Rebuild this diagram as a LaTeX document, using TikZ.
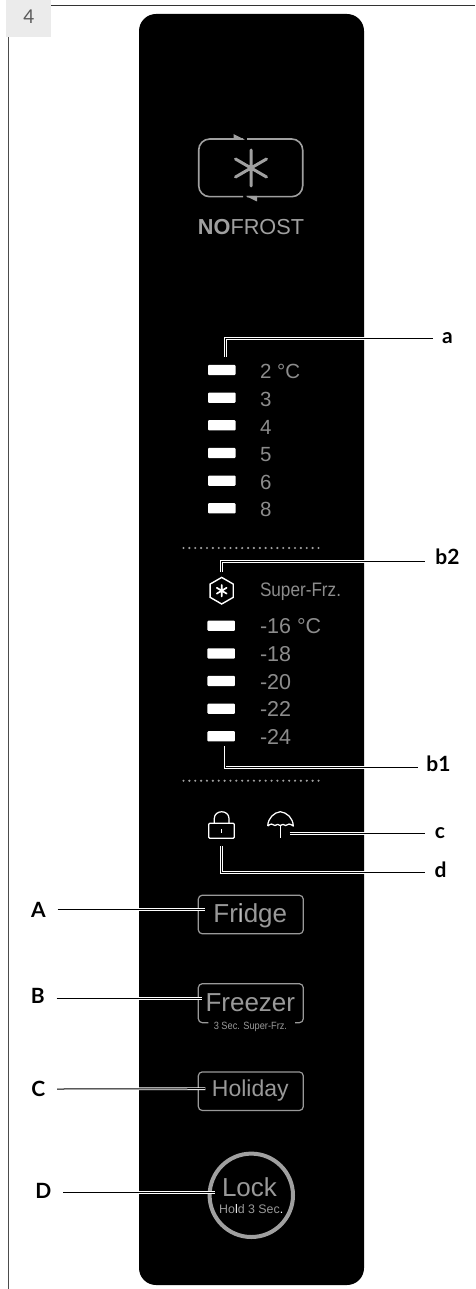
\documentclass[tikz,border=0pt]{standalone}
\usepackage{fontspec}
\usepackage{graphicx}
\setmainfont{Liberation Sans}
\newfontfamily\latofont{Lato}
\usetikzlibrary{shapes.geometric}
\definecolor{pgray}{HTML}{A0A0A0}
\definecolor{tgray}{HTML}{8C8C8C}
\definecolor{bgray}{HTML}{999999}
\newcommand{\fs}[1]{\fontsize{#1}{#1}\selectfont}
\tikzset{
  leader/.style={draw=black,line width=1pt,line join=miter,preaction={draw=white,line width=2.8pt}},
  lab/.style={inner sep=0pt,outer sep=0pt,text=black,font=\latofont\bfseries\fs{21}},
  ledbar/.style={fill=white,rounded corners=1pt,minimum width=27.5pt,minimum height=10.3pt,inner sep=0pt,outer sep=0pt},
  temp/.style={anchor=base west,inner sep=0pt,outer sep=0pt,text=tgray,font=\fs{20.5}},
  btn/.style={draw=bgray,line width=1.2pt,rounded corners=4pt,minimum width=105pt,minimum height=38.6pt,inner sep=0pt,outer sep=0pt},
  btntext/.style={anchor=base,inner sep=0pt,outer sep=0pt,text=bgray},
  dots/.style={pgray,line width=2.4pt,line cap=round,dash pattern=on 0pt off 5.87pt},
  icon/.style={draw=white,line width=1.25pt,line join=round}
}
\begin{document}
\begin{tikzpicture}[x=1pt,y=-1pt]
\useasboundingbox (0,0) rectangle (475,1289);
% page frame
\fill[white] (0,0) rectangle (475,1289);
\draw[black!80,line width=1.1pt] (51,5.4) -- (475,5.4);
\draw[black!70,line width=1.2pt] (8.7,36.7) -- (8.7,1289);
\fill[black!8] (6,0) rectangle (51,36.7);
\node[inner sep=0pt,text=black!65,font=\latofont\fs{19}] (pagenum) at (29,16.5) {4};
% panel
\fill[black,rounded corners=17pt] (139,14) rectangle (364,1285);
% NOFROST icon
\draw[pgray,line width=1.6pt,rounded corners=11pt] (243,139) -- (198.7,139) -- (198.7,196.7) -- (243,196.7);
\draw[pgray,line width=1.6pt,rounded corners=11pt] (247,139) -- (302.7,139) -- (302.7,196.7) -- (247,196.7);
\fill[pgray] (233.5,134) -- (245,139.9) -- (233.5,139.9) -- cycle;
\fill[pgray] (245.5,195.8) -- (257,201.5) -- (257,195.8) -- cycle;
\draw[pgray,line width=3pt,line cap=round] (251,150) -- (251,186) (235.5,159) -- (266.5,177) (235.5,177) -- (266.5,159);
\node[anchor=base,inner sep=0pt,text=pgray,font=\fs{21.7}] (nofrost) at (251,234) {\textbf{NO}FROST};
% fridge LEDs
\node[ledbar] (r1) at (221.8,370) {};
\node[ledbar] (r2) at (221.8,397.7) {};
\node[ledbar] (r3) at (221.8,425.3) {};
\node[ledbar] (r4) at (221.8,453) {};
\node[ledbar] (r5) at (221.8,480.7) {};
\node[ledbar] (r6) at (221.8,508.3) {};
\node[temp] (t1) at (260,378.5) {2 °C};
\node[temp] (t2) at (260,406) {3};
\node[temp] (t3) at (260,434) {4};
\node[temp] (t4) at (260,461.5) {5};
\node[temp] (t5) at (260,489) {6};
\node[temp] (t6) at (260,516.5) {8};
\draw[dots] (183.5,548) -- (319,548);
% super freeze
\node[regular polygon,regular polygon sides=6,shape border rotate=30,draw=white,line width=1.4pt,minimum size=26.6pt,inner sep=0pt,outer sep=0pt] (hex) at (221.7,590.7) {};
\draw[white,line width=1.7pt,line cap=round] (221.7,585) -- (221.7,596.4) (216.8,587.8) -- (226.6,593.6) (216.8,593.6) -- (226.6,587.8);
\node[temp] (sf) at (260,596.5) {\scalebox{.88}[1]{\fs{19.5}Super-Frz.}};
\node[ledbar] (f1) at (221.2,625.7) {};
\node[ledbar] (f2) at (221.2,653.4) {};
\node[ledbar] (f3) at (221.2,681) {};
\node[ledbar] (f4) at (221.2,708.7) {};
\node[ledbar] (f5) at (221.2,736.3) {};
\node[temp,font=\fs{21.5}] (g1) at (260,633.7) {-16 °C};
\node[temp,font=\fs{21.5}] (g2) at (260,661.5) {-18};
\node[temp,font=\fs{21.5}] (g3) at (260,689) {-20};
\node[temp,font=\fs{21.5}] (g4) at (260,716.7) {-22};
\node[temp,font=\fs{21.5}] (g5) at (260,744) {-24};
\draw[dots] (183.5,780.7) -- (319,780.7);
% lock icon
\node[icon,rounded corners=1pt,minimum width=25.6pt,minimum height=15pt,inner sep=0pt,outer sep=0pt] (lock) at (221.5,830.8) {};
\draw[icon] (214.3,823.3) -- (214.3,818.5) .. controls (214.3,809.5) and (229,809.5) .. (229,818.5) -- (229,823.3);
\draw[white,line width=1pt] (221.5,829) -- (221.5,833);
% umbrella icon
\coordinate (umb) at (280.3,811.7);
\draw[icon] (267.7,826) .. controls (268,818) and (274,812.5) .. (umb) .. controls (287,812.5) and (293,818) .. (293.3,826)
  .. controls (290,823.5) and (288,823.5) .. (285.5,825.5) .. controls (284,824) and (282,824) .. (280.3,825.5)
  .. controls (278.5,824) and (276.5,824) .. (275,825.5) .. controls (273,823.5) and (270.5,823.5) .. (267.7,826);
\draw[icon] (280.3,825) -- (280.3,838.3);
\coordinate (umbh) at (289.5,833.3);
% buttons
\node[btn] (fridge) at (250.8,914.5) {};
\node[btntext,font=\fs{26}] (fridget) at (250.3,922.3) {Fr\textcolor{black!25}{i}dge};
\node[inner sep=0pt,outer sep=0pt,minimum width=105pt,minimum height=39pt] (freezer) at (250.8,1003.2) {};
\draw[bgray,line width=1.2pt,rounded corners=4pt] (208.3,1022.7) -- (198.3,1022.7) -- (198.3,983.7) -- (303.3,983.7) -- (303.3,1022.7) -- (295,1022.7);
\node[btntext,font=\fs{26}] (freezert) at (250.3,1011.7) {Freezer};
\node[btntext,font=\fs{10.5}] (freezers) at (250.4,1029) {\scalebox{.88}[1]{3 Sec. Super-Frz.}};
\node[btn] (holiday) at (250.8,1091.2) {};
\node[btntext,font=\fs{23}] (holidayt) at (250.3,1096.7) {Holiday};
\node[circle,draw=pgray,line width=4pt,minimum size=83.4pt,inner sep=0pt,outer sep=0pt] (lockbtn) at (251.3,1195.3) {};
\node[btntext,font=\fs{26}] (lockt) at (249.5,1196) {Lock};
\node[btntext,font=\fs{12.4}] (lockh) at (251.2,1213.3) {Ho\textcolor{white}{l}d 3 Sec\textcolor{white}{.}};
% labels
\node[lab] (la) at (447.5,338.3) {a};
\node[lab] (lb2) at (447.5,556.7) {b2};
\node[lab] (lb1) at (438.5,764) {b1};
\node[lab] (lc) at (440,833) {c};
\node[lab] (ld) at (440.5,869.5) {d};
\node[lab] (lA) at (38.3,909.5) {A};
\node[lab] (lB) at (37.7,995.7) {B};
\node[lab] (lC) at (38.3,1089) {C};
\node[lab] (lD) at (43.3,1190.7) {D};
% leaders
\draw[leader] ([xshift=3.5pt,yshift=8pt]r1.north) |- ([xshift=-9pt]la.west);
\draw[leader] ([yshift=5pt]hex.north) |- ([xshift=-10pt,yshift=-5pt]lb2.west);
\draw[leader] ([xshift=3.8pt,yshift=-5pt]f5.south) |- ([xshift=-8pt,yshift=-3.2pt]lb1.west);
\draw[leader] (umbh) -- ([xshift=-9.5pt]lc.west |- umbh);
\draw[leader] ([yshift=-8pt]lock.south) |- ([xshift=-9.5pt,yshift=-3.2pt]ld.west);
\draw[leader] ([xshift=12pt]lA.east) -- ([xshift=7pt,yshift=5pt]fridge.west);
\draw[leader] ([xshift=12pt,yshift=-3pt]lB.east) -- ([xshift=4pt,yshift=4.5pt]freezer.west);
\draw[leader] ([xshift=12pt]lC.east) -- ([xshift=7pt,yshift=2.5pt]holiday.west);
\draw[leader] ([xshift=12pt,yshift=-1.6pt]lD.east) -- ([xshift=5.4pt,yshift=3pt]lockbtn.west);
\end{tikzpicture}
\end{document}
